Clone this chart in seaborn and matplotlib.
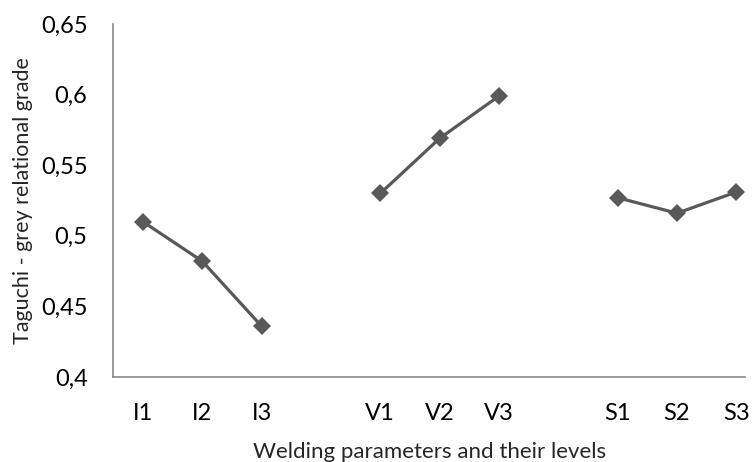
import matplotlib
matplotlib.use("Agg")
import matplotlib.pyplot as plt
from matplotlib.ticker import FuncFormatter, MultipleLocator
import pandas as pd
import seaborn as sns

# ======================== データ ========================
GROUPS = ["I", "V", "S"]
LEVELS = ["1", "2", "3"]
I_VALUES = [0.510, 0.482, 0.436]
V_VALUES = [0.530, 0.569, 0.599]
S_VALUES = [0.527, 0.516, 0.531]

LINE_COLOR = "#595959"
AXIS_COLOR = "#868686"


def make_df() -> pd.DataFrame:
    rows = []
    for gi, (g, vals) in enumerate(zip(GROUPS, [I_VALUES, V_VALUES, S_VALUES])):
        for li, (lv, v) in enumerate(zip(LEVELS, vals)):
            # 群の間に空のカテゴリを1つ挟む
            rows.append({"group": g, "label": g + lv, "pos": gi * 4 + li, "value": v})
    return pd.DataFrame(rows)


if __name__ == "__main__":
    sns.set_theme(style="white")
    plt.rcParams["font.family"] = ["Lato", "DejaVu Sans"]

    df = make_df()

    fig = plt.figure(figsize=(7.55, 4.62), dpi=100)
    ax = fig.add_axes([0.150, 0.184, 0.837, 0.764])

    sns.lineplot(
        data=df,
        x="pos",
        y="value",
        units="group",
        estimator=None,
        color=LINE_COLOR,
        linewidth=2.3,
        marker="D",
        markersize=9,
        markeredgewidth=0,
        ax=ax,
    )

    ax.set_xlim(-0.5, 10.15)
    ax.set_ylim(0.4, 0.65)
    ax.yaxis.set_major_locator(MultipleLocator(0.05))
    ax.yaxis.set_major_formatter(
        FuncFormatter(lambda v, _: f"{v:.2f}".rstrip("0").rstrip(".").replace(".", ","))
    )
    ax.set_xticks(df["pos"].tolist())
    ax.set_xticklabels(df["label"].tolist())

    for side in ["top", "right"]:
        ax.spines[side].set_visible(False)
    for side in ["left", "bottom"]:
        ax.spines[side].set_color(AXIS_COLOR)
        ax.spines[side].set_linewidth(1.2)

    ax.tick_params(axis="both", length=0, labelsize=17, colors="black")
    ax.tick_params(axis="y", pad=18.5)
    ax.tick_params(axis="x", pad=19)

    ax.set_xlabel("Welding parameters and their levels", fontsize=16, labelpad=13)
    ax.set_ylabel("Taguchi - grey relational grade", fontsize=15.5, labelpad=6)

    fig.savefig("out.png", dpi=100)
    plt.close(fig)
